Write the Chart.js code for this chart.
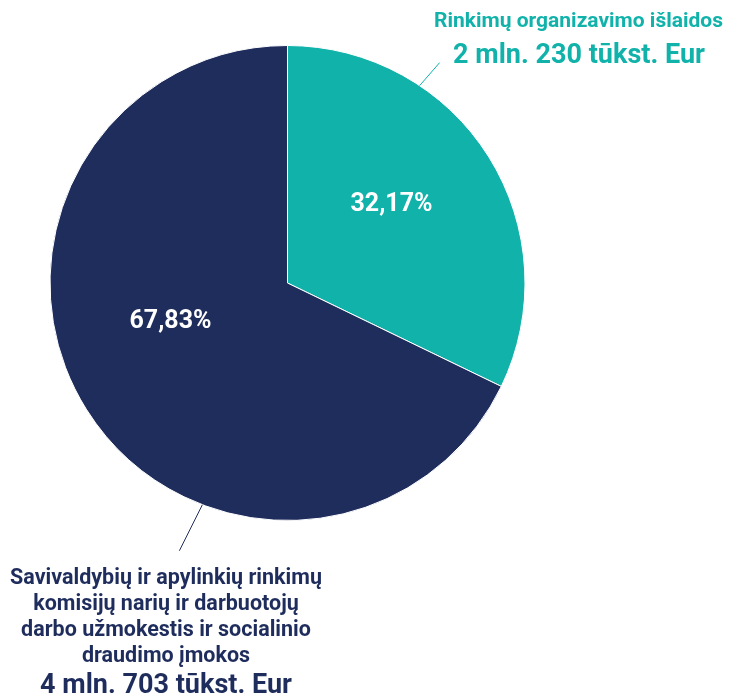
<!DOCTYPE html>
<html>
<head>
<meta charset="utf-8">
<script src="https://cdn.jsdelivr.net/npm/chart.js@4"></script>
<style>
  html, body { margin: 0; padding: 0; background: #fff; }
  #wrap { width: 733px; height: 697px; position: relative; }
</style>
</head>
<body>
<div id="wrap"><canvas id="pieChart" width="733" height="697"></canvas></div>
<script>
// data
const categories = [
  'Rinkimų organizavimo išlaidos',
  'Savivaldybių ir apylinkių rinkimų komisijų narių ir darbuotojų darbo užmokestis ir socialinio draudimo įmokos'
];
const shares = [32.17, 67.83];
const shareLabels = ['32,17%', '67,83%'];
const amountLabels = ['2 mln. 230 tūkst. Eur', '4 mln. 703 tūkst. Eur'];
// wrapped lines of the outer category labels
const titleLines = [
  ['Rinkimų organizavimo išlaidos'],
  ['Savivaldybių ir apylinkių rinkimų', 'komisijų narių ir darbuotojų', 'darbo užmokestis ir socialinio', 'draudimo įmokos']
];

const colors = ['#10b2aa', '#1f2d5d'];
const FONT = 'Roboto, "Liberation Sans", sans-serif';

// where labels sit (relative to pie centre, in px) - tuned by eye
const pctPos = [[104, -78], [-117, 39]];
// leader lines: angle on rim (deg from top, clockwise) and end offset
const leaders = [{ a: 33.8, dx: 20, dy: -23 }, { a: 201, dx: -23, dy: 46 }];

const labelPlugin = {
  id: 'pieLabels',
  afterDraw(chart) {
    const ctx = chart.ctx;
    const arcs = chart.getDatasetMeta(0).data;
    const cx = arcs[0].x, cy = arcs[0].y, R = arcs[0].outerRadius;
    ctx.save();
    ctx.textAlign = 'center';
    ctx.textBaseline = 'middle';
    ctx.fillStyle = '#fff';
    ctx.font = 'bold 25px ' + FONT;
    arcs.forEach((a, i) => {
      ctx.fillText(shareLabels[i], cx + pctPos[i][0], cy + pctPos[i][1]);
    });

    // leader lines
    ctx.lineWidth = 1;
    leaders.forEach((l, i) => {
      const t = l.a * Math.PI / 180;
      const x0 = cx + R * Math.sin(t), y0 = cy - R * Math.cos(t);
      ctx.strokeStyle = colors[i];
      ctx.beginPath();
      ctx.moveTo(x0, y0);
      ctx.lineTo(x0 + l.dx, y0 + l.dy);
      ctx.stroke();
    });

    ctx.textBaseline = 'alphabetic';
    // top-right label
    ctx.fillStyle = colors[0];
    ctx.font = 'bold 21px ' + FONT;
    ctx.fillText(titleLines[0][0], 578.5, 27);
    ctx.font = 'bold 27px ' + FONT;
    ctx.fillText(amountLabels[0], 579, 63);

    // bottom-left label
    ctx.fillStyle = colors[1];
    ctx.font = 'bold 21.5px ' + FONT;
    titleLines[1].forEach((line, j) => {
      ctx.fillText(line, 166, 584 + j * 25.9);
    });
    ctx.font = 'bold 27px ' + FONT;
    ctx.fillText(amountLabels[1], 166, 693);
    ctx.restore();
  }
};

new Chart(document.getElementById('pieChart').getContext('2d'), {
  type: 'pie',
  data: {
    labels: categories,
    datasets: [{
      data: shares,
      backgroundColor: colors,
      borderColor: '#fff',
      borderWidth: 1
    }]
  },
  options: {
    responsive: false,
    animation: false,
    layout: { padding: { left: 49.5, right: 207.5, top: 45, bottom: 176 } },
    plugins: { legend: { display: false }, tooltip: { enabled: false } }
  },
  plugins: [labelPlugin]
});
</script>
</body>
</html>
